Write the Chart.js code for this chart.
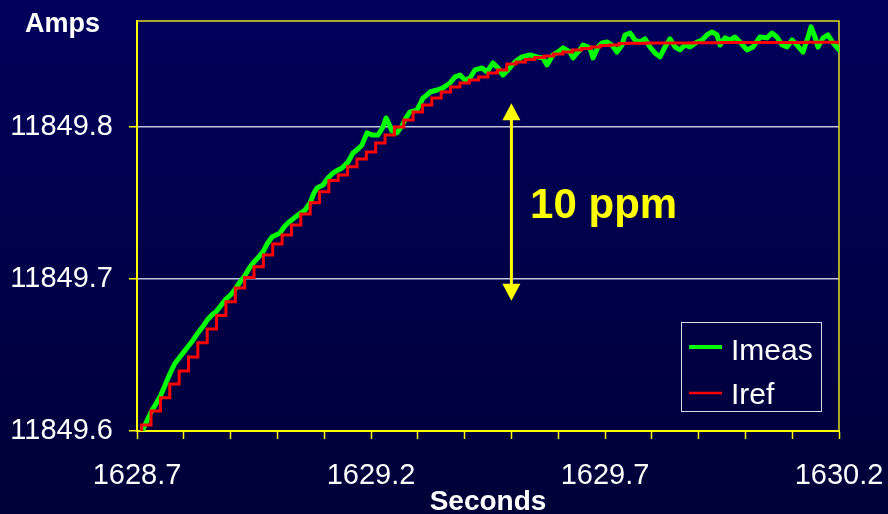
<!DOCTYPE html>
<html>
<head>
<meta charset="utf-8">
<script src="https://cdn.jsdelivr.net/npm/chart.js@4"></script>
<style>
  html, body { margin: 0; padding: 0; background: #000048; }
  #wrap { width: 888px; height: 514px; position: relative; }
</style>
</head>
<body>
<div id="wrap"><canvas id="chart"></canvas></div>
<script>
// Axis ranges and ticks
const X_MIN = 1628.7;
const X_MAX = 1630.2;
const Y_MIN = 11849.6;
const Y_MAX = 11849.8697;
const xTicks = [1628.7, 1628.8, 1628.9, 1629.0, 1629.1, 1629.2, 1629.3, 1629.4,
                1629.5, 1629.6, 1629.7, 1629.8, 1629.9, 1630.0, 1630.1, 1630.2];
const xLabels = ['1628.7', '', '', '', '', '1629.2', '', '', '', '', '1629.7', '', '', '', '', '1630.2'];
const yTicks = [11849.6, 11849.7, 11849.8];
const yLabels = ['11849.6', '11849.7', '11849.8'];

// Imeas (measured current), seconds / amps
const imeasT = [
  1628.7100, 1628.7201, 1628.7301, 1628.7402, 1628.7500, 1628.7600, 1628.7701, 1628.7801, 1628.7900, 1628.8000,
  1628.8100, 1628.8201, 1628.8301, 1628.8400, 1628.8500, 1628.8600, 1628.8701, 1628.8801, 1628.8900, 1628.9000,
  1628.9100, 1628.9201, 1628.9301, 1628.9400, 1628.9500, 1628.9600, 1628.9692, 1628.9778, 1628.9885, 1628.9970,
  1629.0056, 1629.0141, 1629.0226, 1629.0333, 1629.0440, 1629.0590, 1629.0697, 1629.0782, 1629.0846, 1629.0974,
  1629.1081, 1629.1188, 1629.1295, 1629.1380, 1629.1509, 1629.1615, 1629.1722, 1629.1808, 1629.1915, 1629.2021,
  1629.2150, 1629.2256, 1629.2321, 1629.2385, 1629.2449, 1629.2556, 1629.2662, 1629.2748, 1629.2833, 1629.2919,
  1629.2983, 1629.3047, 1629.3111, 1629.3197, 1629.3261, 1629.3410, 1629.3538, 1629.3624, 1629.3688, 1629.3795,
  1629.3902, 1629.4009, 1629.4115, 1629.4222, 1629.4372, 1629.4479, 1629.4607, 1629.4714, 1629.4821, 1629.4927,
  1629.5077, 1629.5226, 1629.5397, 1629.5547, 1629.5675, 1629.5761, 1629.5889, 1629.5996, 1629.6103, 1629.6252,
  1629.6316, 1629.6402, 1629.6466, 1629.6530, 1629.6679, 1629.6744, 1629.6850, 1629.6936, 1629.7043, 1629.7150,
  1629.7256, 1629.7363, 1629.7427, 1629.7534, 1629.7641, 1629.7748, 1629.7855, 1629.7962, 1629.8068, 1629.8175,
  1629.8282, 1629.8389, 1629.8496, 1629.8603, 1629.8709, 1629.8816, 1629.8966, 1629.9073, 1629.9179, 1629.9286,
  1629.9393, 1629.9457, 1629.9564, 1629.9671, 1629.9778, 1629.9885, 1630.0034, 1630.0162, 1630.0312, 1630.0462,
  1630.0568, 1630.0675, 1630.0782, 1630.0889, 1630.0996, 1630.1103, 1630.1231, 1630.1338, 1630.1402, 1630.1487,
  1630.1551, 1630.1658, 1630.1765, 1630.1872, 1630.2000
];
const imeasA = [
  11849.5993, 11849.6059, 11849.6125, 11849.6178, 11849.6230, 11849.6303, 11849.6375, 11849.6441, 11849.6480, 11849.6520,
  11849.6559, 11849.6599, 11849.6645, 11849.6684, 11849.6730, 11849.6763, 11849.6789, 11849.6829, 11849.6868, 11849.6895,
  11849.6934, 11849.6980, 11849.7020, 11849.7072, 11849.7112, 11849.7145, 11849.7178, 11849.7230, 11849.7276, 11849.7289,
  11849.7303, 11849.7342, 11849.7368, 11849.7395, 11849.7421, 11849.7454, 11849.7500, 11849.7566, 11849.7599, 11849.7618,
  11849.7664, 11849.7697, 11849.7717, 11849.7730, 11849.7770, 11849.7829, 11849.7855, 11849.7882, 11849.7961, 11849.7947,
  11849.7947, 11849.8000, 11849.8059, 11849.8020, 11849.7974, 11849.7961, 11849.8007, 11849.8059, 11849.8099, 11849.8105,
  11849.8112, 11849.8151, 11849.8191, 11849.8211, 11849.8230, 11849.8243, 11849.8257, 11849.8276, 11849.8289, 11849.8329,
  11849.8342, 11849.8309, 11849.8322, 11849.8375, 11849.8388, 11849.8362, 11849.8421, 11849.8388, 11849.8342, 11849.8375,
  11849.8428, 11849.8461, 11849.8474, 11849.8461, 11849.8454, 11849.8408, 11849.8474, 11849.8493, 11849.8520, 11849.8493,
  11849.8454, 11849.8487, 11849.8507, 11849.8539, 11849.8520, 11849.8454, 11849.8526, 11849.8553, 11849.8559, 11849.8539,
  11849.8493, 11849.8539, 11849.8605, 11849.8618, 11849.8572, 11849.8559, 11849.8579, 11849.8526, 11849.8487, 11849.8461,
  11849.8526, 11849.8579, 11849.8526, 11849.8507, 11849.8539, 11849.8526, 11849.8559, 11849.8572, 11849.8605, 11849.8625,
  11849.8605, 11849.8539, 11849.8586, 11849.8572, 11849.8592, 11849.8559, 11849.8507, 11849.8526, 11849.8592, 11849.8586,
  11849.8618, 11849.8592, 11849.8539, 11849.8526, 11849.8572, 11849.8539, 11849.8493, 11849.8592, 11849.8658, 11849.8592,
  11849.8526, 11849.8586, 11849.8605, 11849.8553, 11849.8507
];

// Iref (reference current), held steps every 0.02 s
const irefT = [
  1628.705, 1628.71, 1628.73, 1628.75, 1628.77, 1628.79, 1628.81, 1628.83, 1628.85, 1628.87, 1628.89,
  1628.91, 1628.93, 1628.95, 1628.97, 1628.99, 1629.01, 1629.03, 1629.05, 1629.07, 1629.09,
  1629.11, 1629.13, 1629.15, 1629.17, 1629.19, 1629.21, 1629.23, 1629.25, 1629.27, 1629.29,
  1629.31, 1629.33, 1629.35, 1629.37, 1629.39, 1629.41, 1629.43, 1629.45, 1629.47, 1629.49,
  1629.51, 1629.53, 1629.55, 1629.57, 1629.59, 1629.61, 1629.63, 1629.65, 1629.67, 1629.69,
  1629.71, 1629.73, 1629.75, 1629.77, 1629.79, 1629.81, 1629.83, 1629.85, 1629.87, 1629.89,
  1629.91, 1629.93, 1629.95, 1629.97, 1629.99, 1630.01, 1630.03, 1630.05, 1630.07, 1630.09,
  1630.11, 1630.13, 1630.15, 1630.17, 1630.19, 1630.20
];
const irefA = [
  11849.5987, 11849.6039, 11849.6132, 11849.6219, 11849.6309, 11849.6395, 11849.6487, 11849.6581, 11849.6671, 11849.6759, 11849.6851,
  11849.6941, 11849.7009, 11849.7081, 11849.7158, 11849.7230, 11849.7289, 11849.7355, 11849.7428, 11849.7502, 11849.7574,
  11849.7647, 11849.7684, 11849.7739, 11849.7789, 11849.7836, 11849.7895, 11849.7947, 11849.8000, 11849.8046, 11849.8099,
  11849.8145, 11849.8191, 11849.8230, 11849.8263, 11849.8289, 11849.8309, 11849.8329, 11849.8355, 11849.8375, 11849.8414,
  11849.8428, 11849.8444, 11849.8457, 11849.8467, 11849.8480, 11849.8493, 11849.8507, 11849.8516, 11849.8526, 11849.8536,
  11849.8539, 11849.8549, 11849.8551, 11849.8551, 11849.8552, 11849.8552, 11849.8553, 11849.8553, 11849.8553, 11849.8554,
  11849.8554, 11849.8554, 11849.8555, 11849.8555, 11849.8555, 11849.8555, 11849.8556, 11849.8556, 11849.8556, 11849.8556,
  11849.8556, 11849.8557, 11849.8557, 11849.8557, 11849.8557, 11849.8557
];

// "10 ppm" annotation, in data units
const arrowX = 1629.5;
const arrowFrom = 11849.6857;
const arrowTo = 11849.8156;
const noteText = '10 ppm';
const noteX = 1629.540;
const noteY = 11849.7401;

const FONT = 'Liberation Sans, Arial, sans-serif';
const YELLOW = '#ffff00';

function toPoints(ts, vs) {
  return ts.map((t, i) => ({ x: t, y: vs[i] }));
}

// Background, plot frame, arrow, legend and axis titles
const decorations = {
  id: 'decorations',
  beforeDraw(chart) {
    const { ctx, width, height } = chart;
    const g = ctx.createLinearGradient(0, 0, 0, height);
    g.addColorStop(0, '#00005c');
    g.addColorStop(1, '#000038');
    ctx.save();
    ctx.fillStyle = g;
    ctx.fillRect(0, 0, width, height);
    ctx.restore();
  },
  beforeDatasetsDraw(chart) {
    const { ctx, chartArea: a } = chart;
    ctx.save();
    ctx.strokeStyle = '#e4dc20';
    ctx.lineWidth = 1.5;
    ctx.beginPath();
    ctx.moveTo(a.left, a.top);
    ctx.lineTo(a.right, a.top);
    ctx.lineTo(a.right, a.bottom);
    ctx.stroke();
    ctx.restore();
  },
  afterDraw(chart) {
    const { ctx } = chart;
    const xs = chart.scales.x, ys = chart.scales.y;
    ctx.save();

    // double-headed arrow
    const ax = xs.getPixelForValue(arrowX);
    const y1 = ys.getPixelForValue(arrowTo);
    const y2 = ys.getPixelForValue(arrowFrom);
    const head = 17, half = 9;
    ctx.strokeStyle = YELLOW;
    ctx.fillStyle = YELLOW;
    ctx.lineWidth = 3;
    ctx.beginPath();
    ctx.moveTo(ax, y1 + head - 1);
    ctx.lineTo(ax, y2 - head + 1);
    ctx.stroke();
    ctx.beginPath();
    ctx.moveTo(ax, y1);
    ctx.lineTo(ax - half, y1 + head);
    ctx.lineTo(ax + half, y1 + head);
    ctx.closePath();
    ctx.fill();
    ctx.beginPath();
    ctx.moveTo(ax, y2);
    ctx.lineTo(ax - half, y2 - head);
    ctx.lineTo(ax + half, y2 - head);
    ctx.closePath();
    ctx.fill();

    ctx.font = 'bold 42px ' + FONT;
    ctx.textAlign = 'left';
    ctx.textBaseline = 'alphabetic';
    ctx.fillText(noteText, xs.getPixelForValue(noteX), ys.getPixelForValue(noteY));

    // legend box
    ctx.strokeStyle = '#d8d8e8';
    ctx.lineWidth = 1;
    ctx.strokeRect(681.5, 322.5, 140, 89);
    ctx.lineCap = 'butt';
    ctx.lineWidth = 4;
    ctx.strokeStyle = '#00ff00';
    ctx.beginPath();
    ctx.moveTo(689, 347);
    ctx.lineTo(722, 347);
    ctx.stroke();
    ctx.lineWidth = 2.5;
    ctx.strokeStyle = '#ff0000';
    ctx.beginPath();
    ctx.moveTo(689, 393);
    ctx.lineTo(722, 393);
    ctx.stroke();
    ctx.fillStyle = '#ffffff';
    ctx.font = '30px ' + FONT;
    ctx.fillText('Imeas', 731, 360);
    ctx.fillText('Iref', 731, 404);

    // axis titles
    ctx.font = 'bold 27px ' + FONT;
    ctx.fillText('Amps', 25, 32);
    ctx.font = 'bold 28px ' + FONT;
    ctx.textAlign = 'center';
    ctx.fillText('Seconds', (chart.chartArea.left + chart.chartArea.right) / 2, 510);
    ctx.restore();
  }
};

new Chart(document.getElementById('chart'), {
  type: 'line',
  data: {
    datasets: [{
      label: 'Imeas',
      data: toPoints(imeasT, imeasA),
      borderColor: '#00ff00',
      borderWidth: 5,
      borderJoinStyle: 'round',
      borderCapStyle: 'round',
      pointRadius: 0,
      tension: 0,
      order: 1
    }, {
      label: 'Iref',
      data: toPoints(irefT, irefA),
      borderColor: '#ff0000',
      borderWidth: 3,
      stepped: 'before',
      pointRadius: 0,
      order: 0
    }]
  },
  options: {
    responsive: true,
    maintainAspectRatio: false,
    animation: false,
    events: [],
    layout: { padding: { left: 0, top: 21, right: 49, bottom: 0 } },
    plugins: {
      legend: { display: false },
      tooltip: { enabled: false }
    },
    scales: {
      x: {
        type: 'linear',
        min: X_MIN,
        max: X_MAX,
        afterBuildTicks: (s) => { s.ticks = xTicks.map(v => ({ value: v })); },
        afterFit: (s) => { s.height = 83; s.paddingLeft = 0; s.paddingRight = 0; },
        grid: { drawOnChartArea: false, tickLength: 8, tickColor: YELLOW, tickWidth: 1.5 },
        border: { color: YELLOW, width: 2 },
        ticks: {
          color: '#ffffff',
          font: { family: FONT, size: 29 },
          padding: 20,
          maxRotation: 0,
          autoSkip: false,
          callback: (v, i) => xLabels[i]
        }
      },
      y: {
        min: Y_MIN,
        max: Y_MAX,
        afterBuildTicks: (s) => { s.ticks = yTicks.map(v => ({ value: v })); },
        afterFit: (s) => { s.width = 137; s.paddingTop = 0; s.paddingBottom = 0; },
        grid: {
          color: (c) => (c.index === 0 ? 'rgba(0,0,0,0)' : '#c4c4dc'),
          lineWidth: 1.5,
          tickLength: 8,
          tickColor: YELLOW,
          tickWidth: 1.5
        },
        border: { color: YELLOW, width: 2 },
        ticks: {
          color: '#ffffff',
          font: { family: FONT, size: 29 },
          padding: 16,
          autoSkip: false,
          callback: (v, i) => yLabels[i]
        }
      }
    }
  },
  plugins: [decorations]
});
</script>
</body>
</html>
